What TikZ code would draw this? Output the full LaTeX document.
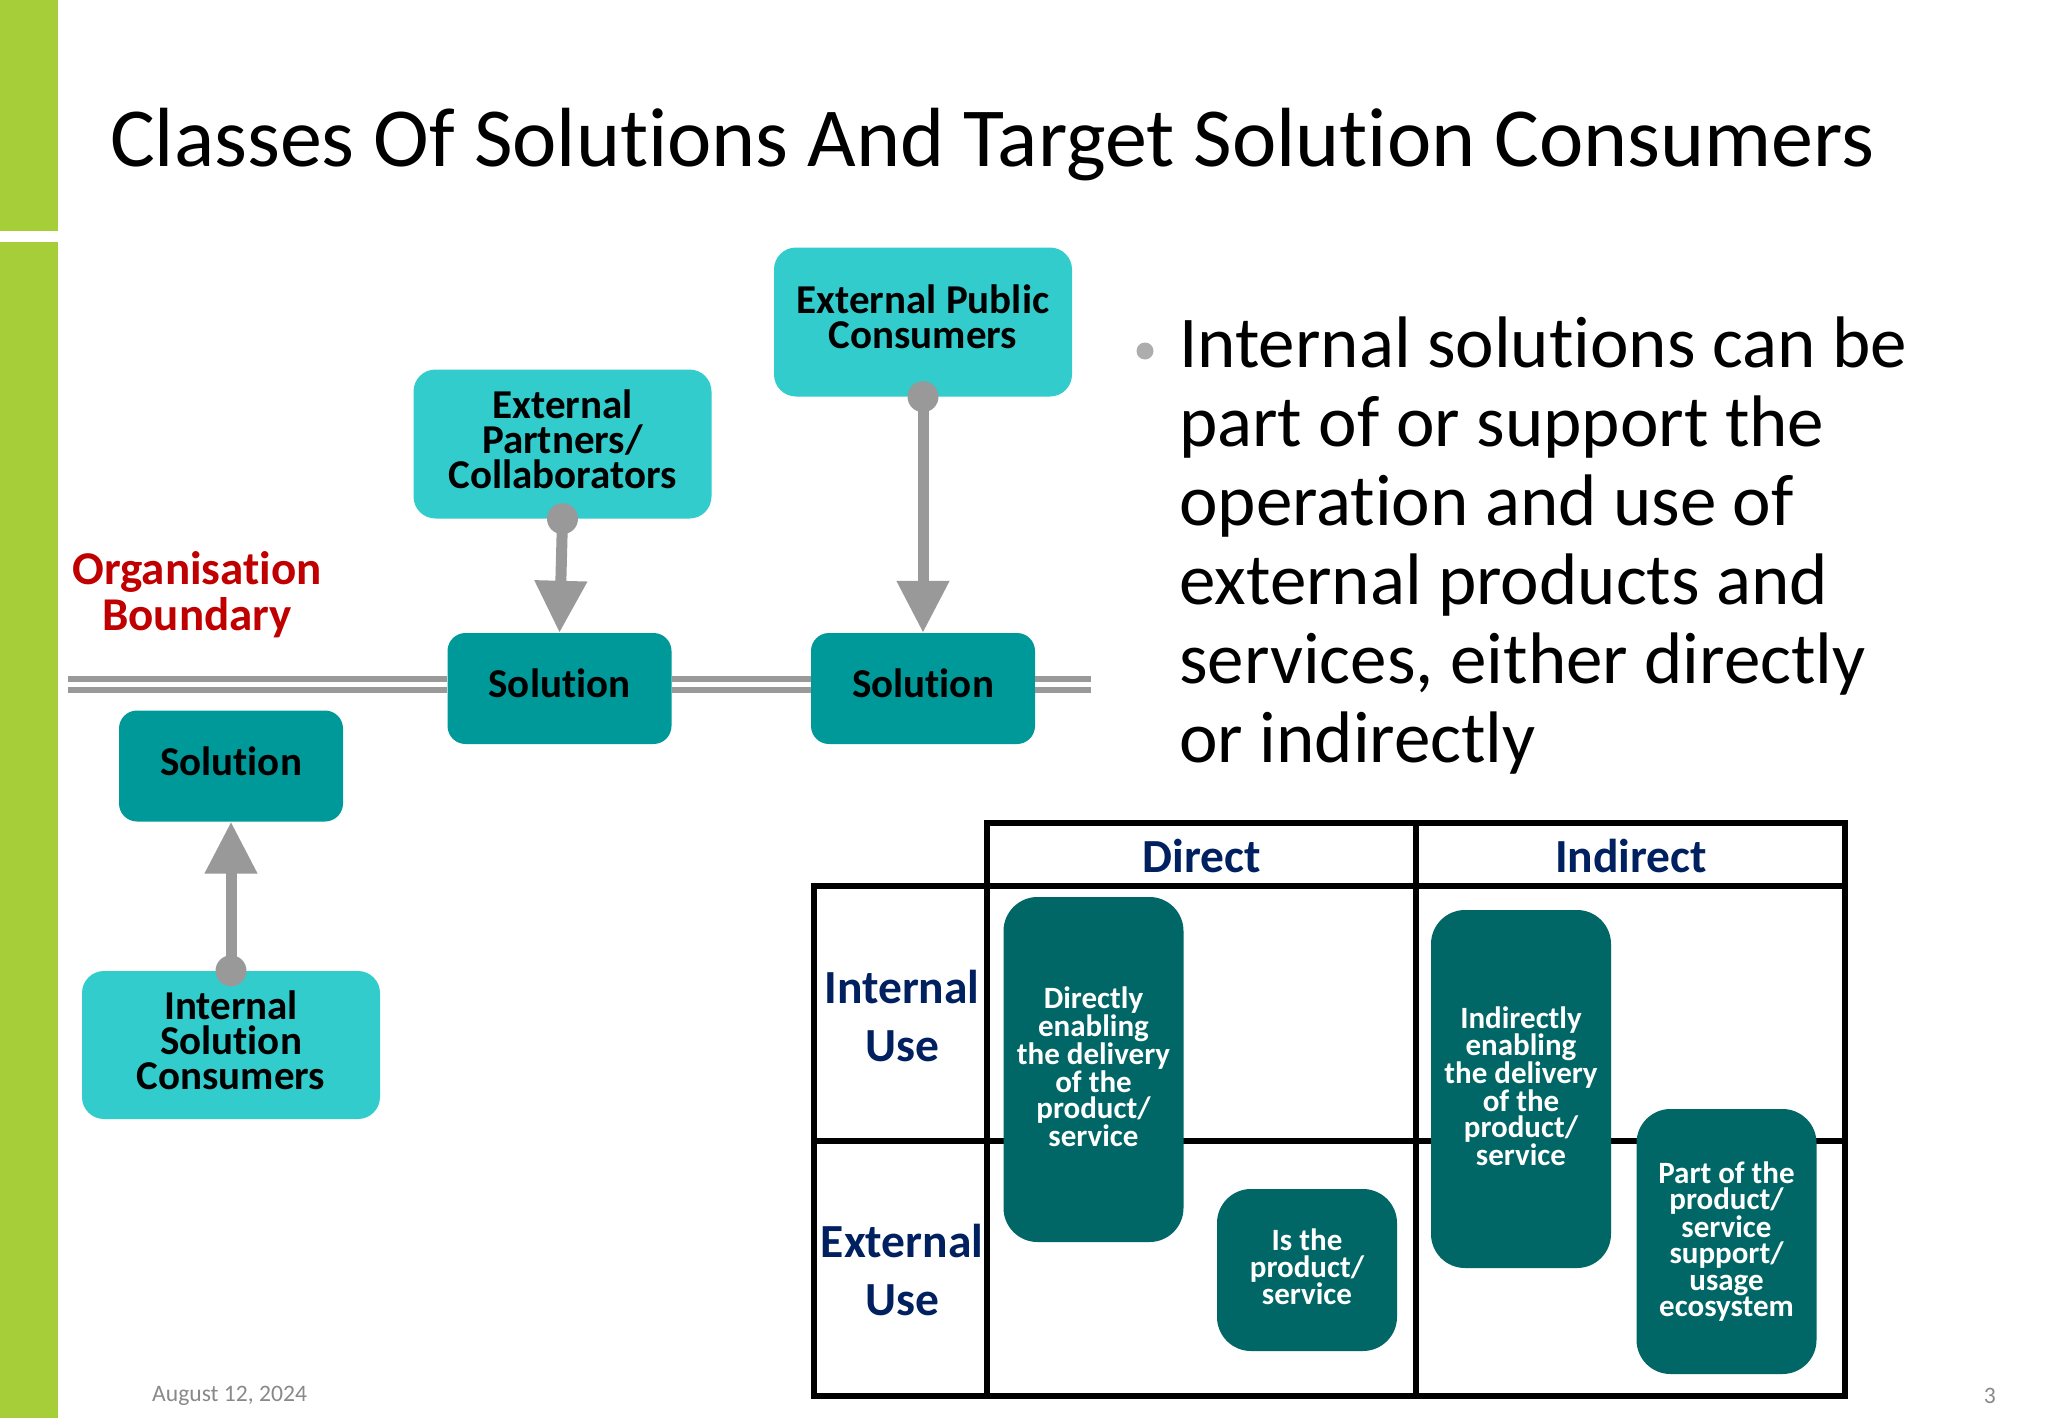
\documentclass[tikz,border=0pt]{standalone}
\usepackage{fontspec}
\setmainfont{Carlito}[Ligatures=NoCommon]
\usetikzlibrary{arrows.meta}
\definecolor{barg}{HTML}{A6CE39}
\definecolor{lteal}{HTML}{33CCCC}
\definecolor{mteal}{HTML}{009999}
\definecolor{dteal}{HTML}{006666}
\definecolor{cgray}{HTML}{999999}
\definecolor{cred}{HTML}{C00000}
\definecolor{cnavy}{HTML}{002060}
\definecolor{foot}{HTML}{898989}
\tikzset{
  box/.style={rounded corners=#1,inner sep=0pt,align=center,font=\bfseries\fontsize{41}{35}\selectfont,text=black},
  consumer/.style={box=22pt,fill=lteal,minimum width=298pt},
  solution/.style={box=18pt,fill=mteal,minimum width=224pt,minimum height=111pt},
  cellbox/.style={box=34pt,fill=dteal,text=white,minimum width=180pt,font=\bfseries\fontsize{31}{26.4}\selectfont},
  dot/.style={circle,fill=cgray,minimum size=31pt,inner sep=0pt},
  flow/.style={draw=cgray,line width=11pt,-{Triangle[length=52pt,width=50pt]}},
  boundary/.style={draw=cgray,line width=5.5pt,double=white,double distance=5.5pt},
  grid/.style={draw=black,line width=6pt},
  head/.style={font=\bfseries\fontsize{47.5}{57.5}\selectfont,text=cnavy,align=center,inner sep=0pt},
}
\begin{document}
\begin{tikzpicture}[x=1pt,y=-1pt]
\useasboundingbox (0,0) rectangle (2048,1418);
\fill[white] (0,0) rectangle (2048,1418);
\fill[barg] (0,0) rectangle (58,231);
\fill[barg] (0,242) rectangle (58,1418);
\node[anchor=west,inner sep=0pt,font=\fontsize{84}{84}\selectfont] (title) at (110,144.5) {Classes Of Solutions And Target Solution Consumers};
% boundary
\coordinate (bl) at (68,684.5);
\coordinate (br) at (1091,684.5);
\node[solution] (s1) at (559.5,688.5) {Solution\\[-25pt]};
\node[solution] (s2) at (923,688.5) {Solution\\[-25pt]};
\node[solution] (s0) at (231,766) {Solution\\[-25pt]};
\draw[boundary] (bl) -- (bl -| s1.west);
\draw[boundary] (bl -| s1.east) -- (bl -| s2.west);
\draw[boundary] (bl -| s2.east) -- (br);
\node[consumer,minimum height=149pt] (pub) at (923,322) {External Public\\Consumers\\[-25pt]};
\node[consumer,minimum height=149pt] (par) at (562.5,444) {External\\Partners/\\Collaborators\\[-25pt]};
\node[consumer,minimum height=148pt] (int) at (231,1045) {Internal\\Solution\\Consumers\\[-25pt]};
\node[dot] (dpub) at (pub.south) {};
\node[dot] (dpar) at (par.south) {};
\node[dot] (dint) at (int.north) {};
\draw[flow] (dpub.center) -- (s2.north);
\draw[flow] (dpar.center) -- (s1.north);
\draw[flow] (dint.center) -- (s0.south);
\node[inner sep=0pt,align=center,text=cred,font=\bfseries\fontsize{47}{46}\selectfont] (org) at (197,594.5) {Organisation\\Boundary};
% bullet text
\node[circle,fill=cgray!80,minimum size=17pt,inner sep=0pt] (bul) at (1145,351) {};
\node[anchor=north west,inner sep=0pt,align=left,font=\fontsize{73}{79}\selectfont] (txt) at (1179,317) {Internal solutions can be\\part of or support the\\operation and use of\\external products and\\services, either directly\\or indirectly};
% table
\draw[grid] (987,823) rectangle (1845,886);
\draw[grid] (814,886) rectangle (987,1141);
\draw[grid] (814,1141) rectangle (987,1396);
\draw[grid] (987,886) rectangle (1415.5,1141);
\draw[grid] (1415.5,886) rectangle (1845,1141);
\draw[grid] (987,1141) rectangle (1415.5,1396);
\draw[grid] (1415.5,1141) rectangle (1845,1396);
\draw[grid] (1415.5,823) -- (1415.5,886);
\node[head] (hd) at (1202,856) {Direct};
\node[head] (hi) at (1631,856) {Indirect};
\node[head] (ri) at (902,1016) {Internal\\Use};
\node[head] (re) at (902,1270) {External\\Use};
\node[cellbox,minimum height=345pt] (c1) at (1093.5,1069.5) {Directly\\enabling\\the delivery\\of the\\product/\\service\\[-20.4pt]};
\node[cellbox,minimum height=162pt] (c2) at (1307,1270) {Is the\\product/\\service\\[-20.4pt]};
\node[cellbox,minimum height=358pt] (c3) at (1521,1089) {Indirectly\\enabling\\the delivery\\of the\\product/\\service\\[-20.4pt]};
\node[cellbox,minimum height=265pt] (c4) at (1726.5,1241.5) {Part of the\\product/\\service\\support/\\usage\\ecosystem};
% footer
\node[anchor=west,inner sep=0pt,text=foot,font=\fontsize{23.6}{24}\selectfont] (date) at (152,1396) {August 12, 2024};
\node[anchor=east,inner sep=0pt,text=foot,font=\fontsize{23.6}{24}\selectfont] (page) at (1996,1396) {3};
\end{tikzpicture}
\end{document}
